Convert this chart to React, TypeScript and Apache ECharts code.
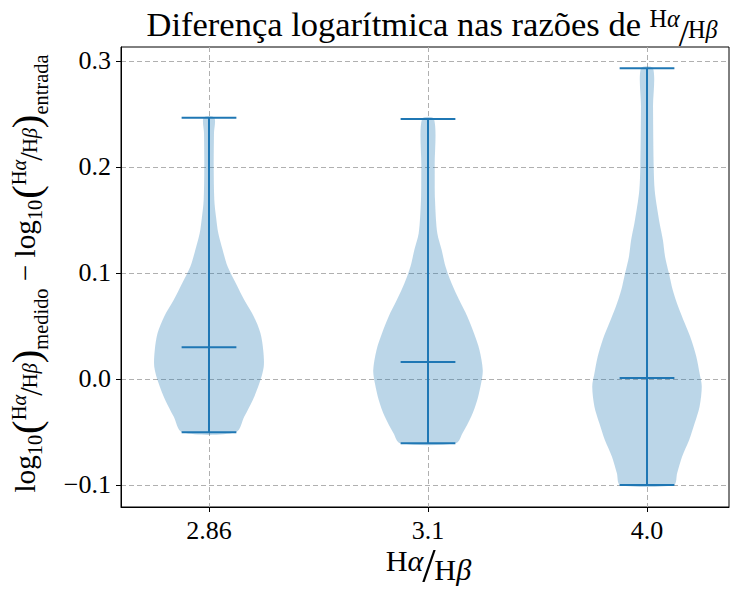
import React, { useEffect, useRef } from 'react';
import * as echarts from 'echarts';

const categories = ['2.86', '3.1', '4.0'];
const yTicks = [-0.1, 0.0, 0.1, 0.2, 0.3];
const means = [0.030, 0.016, 0.001];
const mins = [-0.0503, -0.0607, -0.1000];
const maxs = [0.2465, 0.2453, 0.2931];

// KDE outline of each violin: levels (y) and normalized density (half-width share)
const levels286 = [-0.0503, -0.0355, -0.0198, -0.0041, 0.0116, 0.0274, 0.0431, 0.0588, 0.0745, 0.0903, 0.1060, 0.1217, 0.1374, 0.1531, 0.1689, 0.2003, 0.2318, 0.2465];
const density286 = [0.49, 0.645, 0.80, 0.92, 1.0, 0.99, 0.94, 0.82, 0.645, 0.49, 0.34, 0.25, 0.17, 0.128, 0.097, 0.086, 0.091, 0.097];
const levels31 = [-0.0607, -0.0513, -0.0355, -0.0198, -0.0041, 0.0085, 0.0274, 0.0431, 0.0588, 0.0745, 0.0903, 0.1060, 0.1217, 0.1374, 0.1689, 0.2003, 0.2453];
const density31 = [0.51, 0.63, 0.79, 0.90, 0.97, 1.0, 0.94, 0.84, 0.72, 0.57, 0.43, 0.32, 0.25, 0.17, 0.128, 0.122, 0.11];
const levels40 = [-0.1000, -0.0890, -0.0733, -0.0575, -0.0418, -0.0261, -0.0072, 0.0053, 0.0211, 0.0368, 0.0525, 0.0682, 0.0840, 0.0997, 0.1154, 0.1311, 0.1469, 0.1626, 0.1783, 0.2003, 0.2569, 0.2931];
const density40 = [0.49, 0.55, 0.64, 0.77, 0.87, 0.96, 1.0, 0.96, 0.90, 0.81, 0.69, 0.57, 0.47, 0.40, 0.33, 0.29, 0.23, 0.18, 0.14, 0.122, 0.11, 0.11];

const levels = [levels286, levels31, levels40];
const densities = [density286, density31, density40];

const FONT = 'Liberation Serif';
const BLUE = '#1f77b4';

type Frag = { t: string; s: number; dy: number; it?: boolean; dx?: number };

function layoutFrags(frags: Frag[], scale: number) {
  const ctx = document.createElement('canvas').getContext('2d') as CanvasRenderingContext2D;
  let x = 0;
  const items = frags.map((f) => {
    const size = f.s * scale;
    ctx.font = `${f.it ? 'italic ' : ''}${size}px "${FONT}"`;
    x += (f.dx || 0) * scale;
    const w = ctx.measureText(f.t).width;
    const item = { t: f.t, size, x, dy: f.dy * scale, it: !!f.it };
    x += w;
    return item;
  });
  return { items, width: x };
}

function textGroup(frags: Frag[], scale: number, cx: number, baseY: number, rotation = 0) {
  const { items, width } = layoutFrags(frags, scale);
  return {
    type: 'group',
    x: cx,
    y: baseY,
    rotation,
    children: items
      .filter((it) => it.t.length > 0)
      .map((it) => ({
        type: 'text',
        x: it.x - width / 2,
        y: it.dy - 0.34 * it.size,
        style: {
          text: it.t,
          fontSize: it.size,
          lineHeight: Math.round(it.size * 0.8),
          fontFamily: FONT,
          fontStyle: it.it ? 'italic' : 'normal',
          fill: '#000',
          align: 'left',
          verticalAlign: 'middle',
        },
      })),
  };
}

const titleFrags: Frag[] = [
  { t: 'Diferença logarítmica nas razões de ', s: 1, dy: 0 },
  { t: 'H', s: 0.7, dy: -0.27 },
  { t: 'α', s: 0.7, dy: -0.27, it: true },
  { t: '/', s: 1.08, dy: 0.29, dx: -0.03 },
  { t: 'H', s: 0.7, dy: 0.06, dx: -0.03 },
  { t: 'β', s: 0.7, dy: 0.06, it: true },
];

const xLabelFrags: Frag[] = [
  { t: 'H', s: 0.72, dy: -0.05 },
  { t: 'α', s: 0.72, dy: -0.05, it: true },
  { t: '/', s: 1.15, dy: 0.22, dx: -0.03 },
  { t: 'H', s: 0.72, dy: 0.18, dx: -0.03 },
  { t: 'β', s: 0.72, dy: 0.18, it: true },
];

const fracPart = (sub: string): Frag[] => [
  { t: 'log', s: 1, dy: 0 },
  { t: '10', s: 0.7, dy: 0.25 },
  { t: '(', s: 1.4, dy: 0.18, dx: 0.03 },
  { t: 'H', s: 0.7, dy: -0.3 },
  { t: 'α', s: 0.7, dy: -0.3, it: true },
  { t: '/', s: 1.05, dy: 0.25, dx: -0.03 },
  { t: 'H', s: 0.7, dy: 0.05, dx: -0.03 },
  { t: 'β', s: 0.7, dy: 0.05, it: true },
  { t: ')', s: 1.4, dy: 0.18 },
  { t: sub, s: 0.7, dy: 0.45 },
];

const yLabelFrags: Frag[] = [
  ...fracPart('medido'),
  { t: '−', s: 1, dy: 0, dx: 0.25 },
  { t: '', s: 1, dy: 0, dx: 0.25 },
  ...fracPart('entrada'),
];

export default function App() {
  const ref = useRef<HTMLDivElement>(null);
  useEffect(() => {
    if (!ref.current) return;
    const chart = echarts.init(ref.current, null, { renderer: 'svg' });

    const yNatural = layoutFrags(yLabelFrags, 1).width;
    const yScale = 433 / yNatural;
    const titleNatural = layoutFrags(titleFrags, 1).width;
    const titleScale = 570 / titleNatural;

    const option: any = {
      animation: false,
      backgroundColor: '#fff',
      grid: {
        left: 121,
        top: 47,
        right: 1,
        bottom: 86,
        show: true,
        borderColor: '#000',
        borderWidth: 1,
        backgroundColor: 'transparent',
      },
      xAxis: {
        type: 'value',
        min: -0.4018,
        max: 2.3744,
        axisLine: { show: true, onZero: false, lineStyle: { color: '#000', width: 1 } },
        axisTick: { show: true, customValues: [0, 1, 2], length: 5, lineStyle: { color: '#000' } },
        axisLabel: {
          customValues: [0, 1, 2],
          formatter: (v: number) => categories[Math.round(v)],
          fontSize: 26,
          lineHeight: 22,
          fontFamily: FONT,
          color: '#000',
          margin: 12,
        },
        splitLine: { show: true, lineStyle: { type: [5, 3], color: '#b0b0b0', width: 1 } },
      },
      yAxis: {
        type: 'value',
        min: -0.1208,
        max: 0.3132,
        axisLine: { show: true, onZero: false, lineStyle: { color: '#000', width: 1 } },
        axisTick: { show: true, customValues: yTicks, length: 5, lineStyle: { color: '#000' } },
        axisLabel: {
          customValues: yTicks,
          formatter: (v: number) => (v < -1e-9 ? '−' + Math.abs(v).toFixed(1) : v.toFixed(1)),
          fontSize: 26,
          fontFamily: FONT,
          color: '#000',
          margin: 10,
        },
        splitLine: { show: true, lineStyle: { type: [5, 3], color: '#b0b0b0', width: 1 } },
      },
      series: [
        {
          type: 'custom',
          coordinateSystem: 'cartesian2d',
          encode: { x: 0, y: 1 },
          data: categories.map((_, i) => [i, means[i]]),
          renderItem: (params: any, api: any) => {
            const i = Math.round(api.value(0));
            const vals = levels[i];
            const dens = densities[i];
            const band = api.size([1, 0])[0];
            const maxHalf = band * 0.25;
            const capHalf = band * 0.125;
            const left: number[][] = [];
            const right: number[][] = [];
            for (let k = 0; k < vals.length; k++) {
              const p = api.coord([i, vals[k]]);
              left.push([p[0] - dens[k] * maxHalf, p[1]]);
              right.push([p[0] + dens[k] * maxHalf, p[1]]);
            }
            const pts = left.concat(right.reverse());
            const pMin = api.coord([i, mins[i]]);
            const pMax = api.coord([i, maxs[i]]);
            const pMean = api.coord([i, means[i]]);
            const lineStyle = { stroke: BLUE, lineWidth: 2 };
            const cap = (p: number[]) => ({
              type: 'line',
              shape: { x1: p[0] - capHalf, y1: p[1], x2: p[0] + capHalf, y2: p[1] },
              style: lineStyle,
            });
            return {
              type: 'group',
              children: [
                { type: 'polygon', shape: { points: pts, smooth: 0.3 }, style: { fill: 'rgba(31,119,180,0.3)' } },
                { type: 'line', shape: { x1: pMin[0], y1: pMin[1], x2: pMax[0], y2: pMax[1] }, style: lineStyle },
                cap(pMin),
                cap(pMax),
                cap(pMean),
              ],
            };
          },
        },
      ],
      graphic: [
        textGroup(titleFrags, titleScale, 432, 36),
        textGroup(xLabelFrags, 42, 428.5, 573),
        textGroup(yLabelFrags, yScale, 35, 273.5, Math.PI / 2),
      ],
    };
    chart.setOption(option);
    return () => chart.dispose();
  }, []);
  return (
    <div
      ref={ref}
      style={{ position: 'absolute', left: 0, top: 0, width: 730, height: 593, background: '#fff' }}
    />
  );
}
